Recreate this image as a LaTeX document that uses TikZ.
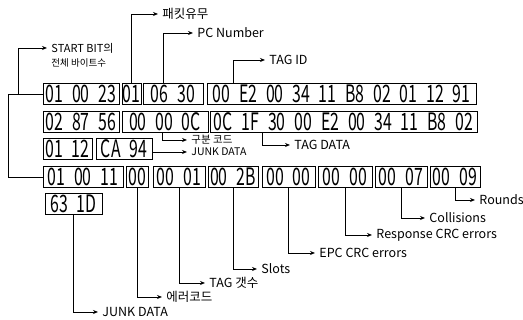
\documentclass[tikz,border=0pt]{standalone}
\usepackage{fontspec}
\setmainfont{Noto Sans CJK KR}
\newfontfamily\hexfont{Noto Sans CJK KR}[FakeStretch=0.66, WordSpace=2.5]
\usetikzlibrary{positioning}
\usetikzlibrary{arrows.meta}

\tikzset{
  hexbox/.style={draw, line width=1pt, minimum height=21pt, inner sep=0pt,
    font=\hexfont\fontsize{24}{26}\selectfont},
  lbl/.style={anchor=west, inner xsep=4pt, inner ysep=0pt, font=\fontsize{12.5}{14}\selectfont},
  smalllbl/.style={lbl, font=\fontsize{10.5}{12}\selectfont},
}

\begin{document}
\begin{tikzpicture}[x=1pt, y=-1pt, line width=0.9pt, >={Stealth[length=5pt,width=4pt]}]
    \fill[white] (0,0) rectangle (523,320);
    \useasboundingbox (0,0) rectangle (523,320);

    % row 1
    \node[hexbox, minimum width=76pt] (b11) at (81,94) {01 00 23};
    \node[hexbox, minimum width=19pt] (b12) at (131.5,94) {01};
    \node[hexbox, minimum width=60pt] (b13) at (173,94) {06 30};
    \node[hexbox, minimum width=269pt] (b14) at (341.5,94) {00 E2 00 34 11 B8 02 01 12 91};
    % row 2
    \node[hexbox, minimum width=76pt] (b21) at (81,122) {02 87 56};
    \node[hexbox, minimum width=86pt] (b22) at (165,122) {00 00 0C};
    \node[hexbox, minimum width=267pt] (b23) at (343.5,122) {0C 1F 30 00 E2 00 34 11 B8 02};
    % row 3
    \node[hexbox, minimum width=49pt] (b31) at (67.5,149) {01 12};
    \node[hexbox, minimum width=56pt] (b32) at (124,149) {CA 94};
    % row 4
    \node[hexbox, minimum width=80pt] (b41) at (83,177) {01 00 11};
    \node[hexbox, minimum width=22pt] (b42) at (137,177) {00};
    \node[hexbox, minimum width=52pt] (b43) at (179,177) {00 01};
    \node[hexbox, minimum width=50pt] (b44) at (233,177) {00 2B};
    \node[hexbox, minimum width=53pt] (b45) at (288.5,177) {00 00};
    \node[hexbox, minimum width=54pt] (b46) at (345,177) {00 00};
    \node[hexbox, minimum width=52pt] (b47) at (401,177) {00 07};
    \node[hexbox, minimum width=50pt] (b48) at (455,177) {00 09};
    % row 5
    \node[hexbox, minimum width=57pt] (b51) at (73.5,204) {63 1D};

    % labels above
    \node[lbl, font=\fontsize{11}{13}\selectfont] (lStart) at (47,48) {START BIT의};
    \node[lbl, font=\fontsize{9.5}{11}\selectfont, below=5pt of lStart.south west, anchor=north west] (lStart2) {전체 바이트수};
    \node[lbl] (lPacket) at (158,14) {패킷유무};
    \node[lbl] (lPC) at (193,33) {PC Number};
    \node[lbl] (lTagId) at (265,60) {TAG ID};
    \node[smalllbl] (lCode) at (187,140) {구분 코드};
    \node[smalllbl] (lJunkA) at (187,152) {JUNK DATA};
    \node[lbl] (lTagData) at (290,145) {TAG DATA};

    \coordinate (jStart) at (18,94);
    \draw[->] (b11.west) -- (jStart) |- (lStart.west);
    \draw (b41.west) -| (8,94) -- (jStart);
    \draw[->] (b12.north) |- (lPacket.west);
    \draw[->] ([xshift=-10pt]b13.north) |- (lPC.west);
    \draw[->] ([xshift=-108pt]b14.north) |- (lTagId.west);
    \draw[->] ([xshift=-3pt]b22.south) |- (lCode.west);
    \draw[->] ([yshift=-3pt]b32.east) -- (lJunkA.west);
    \draw[->] ([xshift=-81pt]b23.south) |- (lTagData.west);

    % labels below
    \foreach \b/\n/\x/\y/\t in {b51/lJunkB/98/312/JUNK DATA, b42/lErr/162/297/에러코드,
        b43/lCount/205/283/TAG 갯수, b44/lSlots/257/269/Slots, b45/lEpc/315/253/EPC CRC errors,
        b46/lResp/372/235/Response CRC errors, b47/lColl/425/218/Collisions, b48/lRounds/475/200/Rounds} {
        \node[lbl] (\n) at (\x,\y) {\t};
        \draw[->] (\b.south) |- (\n.west);
    }
\end{tikzpicture}
\end{document}
